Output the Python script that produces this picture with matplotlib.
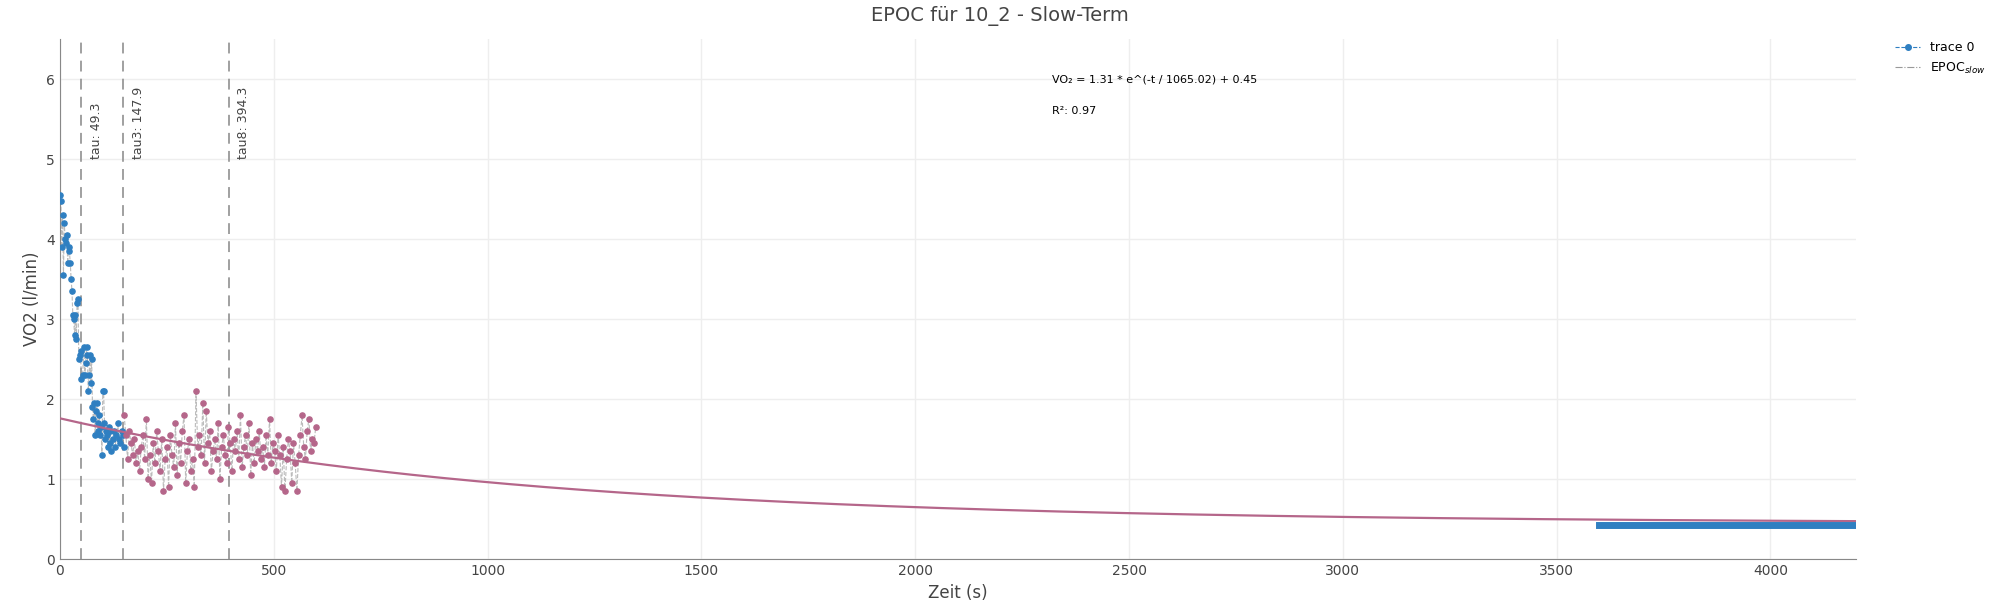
import numpy as np
import matplotlib
matplotlib.use("Agg")
import matplotlib.pyplot as plt

blue_t = [0, 2, 4, 6, 8, 10, 12, 14, 16, 18, 20, 22, 24, 26, 28, 30, 32, 34, 36, 38, 40, 42, 44,
          46, 48, 50, 53, 56, 58, 60, 62, 64, 66, 68, 70, 72, 74, 76, 78, 80, 82, 84, 86, 88, 90,
          92, 94, 96, 98, 100, 102, 104, 106, 108, 110, 112, 114, 116, 118, 120, 123, 126, 129,
          132, 135, 138, 141, 144, 147, 150]
blue_v = [4.55, 4.48, 3.9, 4.3, 3.55, 4.2, 4.0, 3.95, 4.05, 3.7, 3.9, 3.85, 3.7, 3.5, 3.35, 3.05,
          3.0, 2.8, 3.05, 2.75, 3.2, 3.25, 2.5, 2.55, 2.6, 2.25, 2.3, 2.65, 2.3, 2.45, 2.65, 2.55,
          2.1, 2.3, 2.55, 2.2, 2.5, 1.9, 1.75, 1.95, 1.55, 1.85, 1.95, 1.6, 1.7, 1.8, 1.55, 1.65,
          1.3, 2.1, 2.1, 1.7, 1.5, 1.6, 1.55, 1.4, 1.65, 1.45, 1.6, 1.35, 1.5, 1.6, 1.4, 1.55, 1.7,
          1.5, 1.45, 1.6, 1.55, 1.4]

pink_t = list(range(150, 602, 4))
pink_v = [1.8, 1.55, 1.25, 1.6, 1.45, 1.3, 1.5, 1.2, 1.35, 1.1, 1.4, 1.55, 1.25, 1.75, 1.0,
          1.3, 0.95, 1.45, 1.2, 1.6, 1.35, 1.1, 1.5, 0.85, 1.25, 1.4, 0.9, 1.55, 1.3, 1.15,
          1.7, 1.05, 1.45, 1.2, 1.6, 1.8, 0.95, 1.35, 1.5, 1.1, 1.25, 0.9, 2.1, 1.4, 1.55, 1.3,
          1.95, 1.2, 1.85, 1.45, 1.6, 1.1, 1.35, 1.5, 1.25, 1.7, 1.0, 1.4, 1.55, 1.3, 1.2, 1.65,
          1.45, 1.1, 1.5, 1.35, 1.6, 1.25, 1.8, 1.15, 1.4, 1.55, 1.3, 1.7, 1.05, 1.45, 1.2,
          1.5, 1.35, 1.6, 1.25, 1.4, 1.15, 1.55, 1.3, 1.75, 1.2, 1.45, 1.35, 1.1, 1.55, 1.3,
          0.9, 1.4, 0.85, 1.25, 1.5, 1.35, 0.95, 1.45, 1.2, 0.85, 1.3, 1.55, 1.8, 1.4, 1.25,
          1.6, 1.75, 1.35, 1.5, 1.45, 1.65]

tail_t = [3600, 4200]
tail_v = [0.43, 0.43]

taus = [49.3, 147.9, 394.3]
tau_labels = ["tau: 49.3", "tau3: 147.9", "tau8: 394.3"]

A, tau_fit, C = 1.31, 1065.02, 0.45

blue = "#2f7fc1"
pink = "#b5668a"

fig = plt.figure(figsize=(20, 6), dpi=100)
ax = fig.add_axes([0.030, 0.068, 0.898, 0.867])

ax.plot(blue_t, blue_v, color="#bbbbbb", ls="--", lw=0.8, zorder=2)
ax.scatter(blue_t, blue_v, color=blue, s=14, zorder=3)
ax.plot(pink_t, pink_v, color="#bbbbbb", ls="--", lw=0.8, zorder=2)
ax.scatter(pink_t, pink_v, color=pink, s=14, zorder=3)

tt = np.linspace(0, 4200, 500)
ax.plot(tt, A * np.exp(-tt / tau_fit) + C, color=pink, lw=1.6, zorder=4)
ax.plot(tail_t, tail_v, color=blue, lw=5, zorder=4)

for t, lab in zip(taus, tau_labels):
    ax.axvline(t, color="#999999", ls=(0, (6, 4)), lw=1.3)
    ax.text(t + 20, 5.0, lab, rotation=90, fontsize=9, color="#444444", va="bottom")

ax.text(2320, 6.0, "VO₂ = 1.31 * e^(-t / 1065.02) + 0.45", fontsize=8, va="center")
ax.text(2320, 5.6, "R²: 0.97", fontsize=8, va="center")

ax.set_xlim(0, 4200)
ax.set_ylim(0, 6.5)
ax.set_xticks(range(0, 4001, 500))
ax.set_yticks(range(0, 7))
ax.grid(color="#eeeeee", lw=1)
ax.set_axisbelow(True)
for s in ["top", "right"]:
    ax.spines[s].set_visible(False)
for s in ["left", "bottom"]:
    ax.spines[s].set_color("#888888")
ax.tick_params(colors="#444444", labelsize=10, length=0)
ax.set_xlabel("Zeit (s)", fontsize=12, color="#444444")
ax.set_ylabel("VO2 (l/min)", fontsize=12, color="#444444")
fig.suptitle("EPOC für 10_2 - Slow-Term", fontsize=14, color="#444444", y=0.99)

h1, = ax.plot([], [], color=blue, ls="--", marker="o", ms=4, lw=0.8)
h2, = ax.plot([], [], color="#999999", ls="-.", lw=0.8)
fig.legend([h1, h2], ["trace 0", "EPOC$_{slow}$"], loc="upper left",
           bbox_to_anchor=(0.942, 0.95), frameon=False, fontsize=9, handlelength=2)

fig.savefig("out.png")
